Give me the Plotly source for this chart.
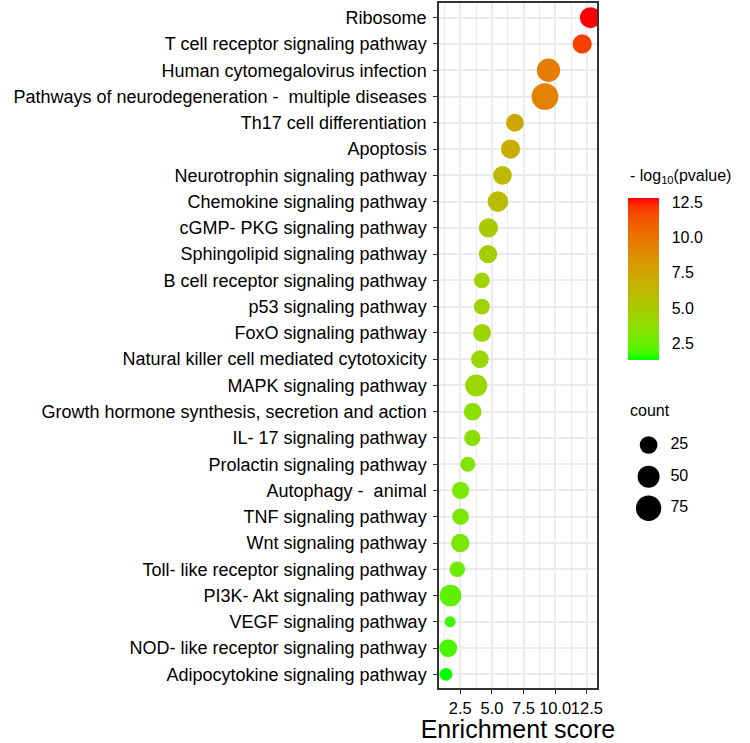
import plotly.graph_objects as go
import numpy as np

pathways = [
    "Ribosome",
    "T cell receptor signaling pathway",
    "Human cytomegalovirus infection",
    "Pathways of neurodegeneration -  multiple diseases",
    "Th17 cell differentiation",
    "Apoptosis",
    "Neurotrophin signaling pathway",
    "Chemokine signaling pathway",
    "cGMP- PKG signaling pathway",
    "Sphingolipid signaling pathway",
    "B cell receptor signaling pathway",
    "p53 signaling pathway",
    "FoxO signaling pathway",
    "Natural killer cell mediated cytotoxicity",
    "MAPK signaling pathway",
    "Growth hormone synthesis, secretion and action",
    "IL- 17 signaling pathway",
    "Prolactin signaling pathway",
    "Autophagy -  animal",
    "TNF signaling pathway",
    "Wnt signaling pathway",
    "Toll- like receptor signaling pathway",
    "PI3K- Akt signaling pathway",
    "VEGF signaling pathway",
    "NOD- like receptor signaling pathway",
    "Adipocytokine signaling pathway",
]
enrichment = [12.78, 12.13, 9.47, 9.19, 6.81, 6.47, 5.83, 5.47, 4.72, 4.69,
              4.20, 4.20, 4.22, 4.05, 3.76, 3.47, 3.45, 3.09, 2.52, 2.52,
              2.49, 2.26, 1.72, 1.69, 1.54, 1.36]
neglog10p = [12.78, 11.9, 9.6, 9.4, 7.3, 7.0, 6.2, 6.0, 5.1, 4.9,
             4.5, 4.5, 4.4, 4.3, 4.2, 3.7, 3.6, 3.3, 3.0, 3.0,
             3.0, 2.6, 2.3, 1.8, 1.9, 1.32]
counts = [43, 33, 59, 87, 26, 33, 30, 41, 33, 28,
          17, 17, 26, 25, 50, 25, 19, 14, 23, 20,
          28, 16, 48, 3, 26, 7]
legend_counts = [25, 50, 75]
x_ticks = [2.5, 5.0, 7.5, 10.0, 12.5]
cbar_ticks = [2.5, 5.0, 7.5, 10.0, 12.5]

# ---------- style helpers ----------
def size_scale(c):
    return 7.3 + 2.08 * np.sqrt(np.asarray(c, dtype=float))

def srgb_to_lab(rgb):
    def lin(u):
        u = u / 255.0
        return u / 12.92 if u <= 0.04045 else ((u + 0.055) / 1.055) ** 2.4
    r, g, b = [lin(v) for v in rgb]
    X = 0.4124 * r + 0.3576 * g + 0.1805 * b
    Y = 0.2126 * r + 0.7152 * g + 0.0722 * b
    Z = 0.0193 * r + 0.1192 * g + 0.9505 * b
    Xn, Yn, Zn = 0.95047, 1.0, 1.08883
    def f(t):
        return t ** (1 / 3) if t > 0.008856 else 7.787 * t + 16 / 116
    fx, fy, fz = f(X / Xn), f(Y / Yn), f(Z / Zn)
    return 116 * fy - 16, 500 * (fx - fy), 200 * (fy - fz)

def lab_to_srgb(L, a, b):
    fy = (L + 16) / 116
    fx = fy + a / 500
    fz = fy - b / 200
    def finv(t):
        return t ** 3 if t ** 3 > 0.008856 else (t - 16 / 116) / 7.787
    X, Y, Z = 0.95047 * finv(fx), finv(fy), 1.08883 * finv(fz)
    r = 3.2406 * X - 1.5372 * Y - 0.4986 * Z
    g = -0.9689 * X + 1.8758 * Y + 0.0415 * Z
    bb = 0.0557 * X - 0.2040 * Y + 1.0570 * Z
    def gam(u):
        u = min(max(u, 0), 1)
        return 12.92 * u if u <= 0.0031308 else 1.055 * u ** (1 / 2.4) - 0.055
    return tuple(int(round(255 * gam(v))) for v in (r, g, bb))

lo = srgb_to_lab((0, 255, 0))
hi = srgb_to_lab((255, 0, 0))
colorscale = []
for t in np.linspace(0, 1, 21):
    L = lo[0] + (hi[0] - lo[0]) * t
    A = lo[1] + (hi[1] - lo[1]) * t
    B = lo[2] + (hi[2] - lo[2]) * t
    r, g, b = lab_to_srgb(L, A, B)
    colorscale.append([float(t), f"rgb({r},{g},{b})"])

FONT = "Liberation Sans, Arial, sans-serif"
W, H = 750, 743
ML, MT, MB = 439, 3, 55
plot_w = W - ML
plot_h = H - MT - MB
panel_right = 600

def px_x(p):
    return (p - ML) / plot_w

def px_y(p):
    return 1 - (p - MT) / plot_h

cmin, cmax = min(neglog10p), max(neglog10p)
bar_top, bar_bot = 198.3, 360.0
bar_left, bar_right = 632, 663

fig = go.Figure()

fig.add_trace(go.Scatter(
    x=enrichment, y=pathways, mode="markers",
    marker=dict(
        size=size_scale(counts), sizemode="diameter",
        color=neglog10p, colorscale=colorscale,
        cmin=cmin, cmax=cmax,
        line=dict(width=0), opacity=1,
        colorbar=dict(
            tickvals=cbar_ticks, tickformat=".1f",
            ticks="outside", ticklen=10, tickcolor="rgba(0,0,0,0)", tickwidth=1,
            tickfont=dict(size=16, family=FONT, color="black"),
            thickness=bar_right - bar_left, thicknessmode="pixels",
            len=bar_bot - bar_top, lenmode="pixels",
            x=px_x(bar_left), xanchor="left", xpad=0,
            y=px_y(bar_bot), yanchor="bottom", ypad=0,
            outlinewidth=0,
        ),
    ),
    cliponaxis=True, showlegend=False, hoverinfo="x+y",
))

fig.add_annotation(
    text="- log<sub>10</sub>(pvalue)", xref="paper", yref="paper",
    x=px_x(632), y=px_y(177), xanchor="left", yanchor="middle", showarrow=False,
    font=dict(size=16, family=FONT, color="black"),
)

# white tick marks on both sides of the colour bar (ggplot style)
for v in cbar_ticks:
    yp = bar_top + (cmax - v) / (cmax - cmin) * (bar_bot - bar_top)
    for x0, x1 in ((bar_left, bar_left + 6), (bar_right - 6, bar_right)):
        fig.add_shape(type="line", xref="paper", yref="paper",
                      x0=px_x(x0), x1=px_x(x1), y0=px_y(yp), y1=px_y(yp),
                      line=dict(color="white", width=1.2))

# size legend (count)
fig.add_trace(go.Scatter(
    x=[15.7] * len(legend_counts), y=[str(c) for c in legend_counts],
    mode="markers", xaxis="x2", yaxis="y2",
    marker=dict(size=size_scale(legend_counts), sizemode="diameter", color="#000000",
                opacity=1, line=dict(width=0, color="#000000")),
    showlegend=False, hoverinfo="skip", cliponaxis=False,
))
fig.add_trace(go.Scatter(
    x=[38] * len(legend_counts), y=[str(c) for c in legend_counts],
    text=[str(c) for c in legend_counts],
    mode="text", textposition="middle right", xaxis="x2", yaxis="y2",
    textfont=dict(size=16, family=FONT, color="black"),
    showlegend=False, hoverinfo="skip", cliponaxis=False,
))

fig.add_annotation(
    text="count", xref="paper", yref="paper", x=px_x(632), y=px_y(410),
    xanchor="left", yanchor="middle", showarrow=False,
    font=dict(size=16, family=FONT, color="black"),
)

leg_top, leg_bot = 445 - 15.8, 508.3 + 15.8
fig.update_layout(
    width=W, height=H,
    margin=dict(l=ML, r=0, t=MT, b=MB, pad=0),
    paper_bgcolor="white", plot_bgcolor="white",
    font=dict(family=FONT, color="black"),
    xaxis=dict(
        domain=[0, px_x(panel_right)],
        range=[0.814, 13.295],
        tickvals=x_ticks, tickformat=".1f", tickangle=0,
        ticks="outside", ticklen=4, tickcolor="#333333", tickwidth=1.2,
        tickfont=dict(size=16.5, family=FONT, color="black"),
        showgrid=True, gridcolor="#EBEBEB", gridwidth=1.6,
        minor=dict(tickvals=[1.25, 3.75, 6.25, 8.75, 11.25], showgrid=True,
                   gridcolor="#EBEBEB", gridwidth=1.2, ticks=""),
        showline=True, linecolor="#333333", linewidth=1.5, mirror=True,
        zeroline=False,
        title=dict(text="Enrichment score", font=dict(size=25, family=FONT, color="black"),
                   standoff=4),
    ),
    yaxis=dict(
        categoryorder="array", categoryarray=pathways,
        range=[25.52, -0.56],
        ticks="outside", ticklen=4, tickcolor="#333333", tickwidth=1.2,
        tickfont=dict(size=18, family=FONT, color="black"),
        ticklabelstandoff=3,
        showgrid=True, gridcolor="#EBEBEB", gridwidth=1.6,
        showline=True, linecolor="#333333", linewidth=1.5, mirror=True,
        zeroline=False, automargin=False,
    ),
    xaxis2=dict(domain=[px_x(637), px_x(705)], range=[0, 68], anchor="y2",
                visible=False, fixedrange=True),
    yaxis2=dict(domain=[px_y(leg_bot), px_y(leg_top)], range=[2.5, -0.5],
                type="category", categoryorder="array",
                categoryarray=[str(c) for c in legend_counts],
                anchor="x2", visible=False, fixedrange=True),
)

fig.write_html("out.html", config={"displayModeBar": False},
               post_script="document.body.style.margin='0';")
